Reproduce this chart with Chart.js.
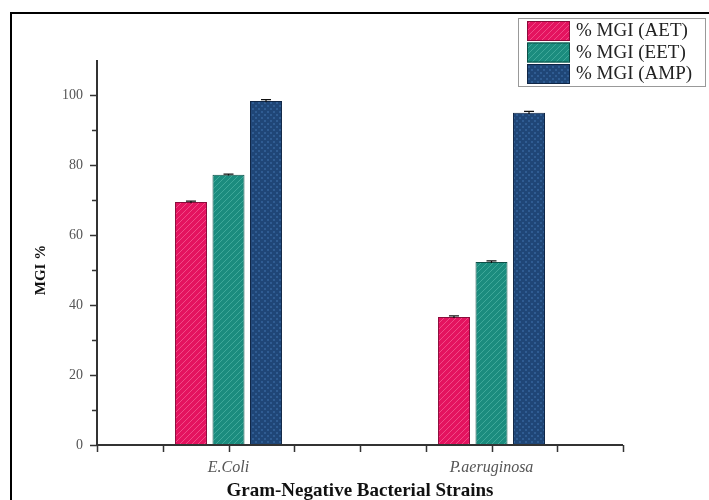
<!DOCTYPE html>
<html>
<head>
<meta charset="utf-8">
<script src="https://cdn.jsdelivr.net/npm/chart.js@4.4.1/dist/chart.umd.min.js"></script>
<style>
html,body{margin:0;padding:0;background:#fff;}
canvas{display:block;}
</style>
</head>
<body>
<canvas id="c" width="709" height="500"></canvas>
<script>
const categories = ['E.Coli', 'P.aeruginosa'];
const seriesNames = ['% MGI (AET)', '% MGI (EET)', '% MGI (AMP)'];
const aetValues = [69.4, 36.6];
const eetValues = [77.2, 52.3];
const ampValues = [98.3, 94.9];
const aetErrors = [0.3, 0.3];
const eetErrors = [0.2, 0.3];
const ampErrors = [0.4, 0.4];
const yTickLabels = [0, 20, 40, 60, 80, 100];
const xTitle = 'Gram-Negative Bacterial Strains';
const yTitle = 'MGI %';

function makePattern(base, line, kind) {
  const s = 6;
  const c = document.createElement('canvas');
  c.width = s; c.height = s;
  const g = c.getContext('2d');
  g.fillStyle = base; g.fillRect(0, 0, s, s);
  g.strokeStyle = line; g.lineWidth = 1;
  if (kind === 'diag') {
    g.beginPath();
    g.moveTo(0, s); g.lineTo(s, 0);
    g.moveTo(-1, 1); g.lineTo(1, -1);
    g.moveTo(s - 1, s + 1); g.lineTo(s + 1, s - 1);
    g.stroke();
  } else {
    g.fillStyle = line;
    g.fillRect(0, 0, 2, 2);
    g.fillRect(3, 3, 2, 2);
  }
  return g.createPattern(c, 'repeat');
}

const colors = [
  {base: '#e4135f', line: '#f04a86', border: '#8a0b3a', kind: 'diag'},
  {base: '#1b8c7e', line: '#3fa899', border: '#0d4f47', kind: 'diag'},
  {base: '#1f4677', line: '#2f5c92', border: '#0f2646', kind: 'check'}
];
const patterns = colors.map(c => makePattern(c.base, c.line, c.kind));
const seriesValues = [aetValues, eetValues, ampValues];
const seriesErrors = [aetErrors, eetErrors, ampErrors];

const SERIF = '"Liberation Serif", "Times New Roman", serif';

const decorPlugin = {
  id: 'decor',
  beforeDraw(chart) {
    const ctx = chart.ctx;
    ctx.save();
    ctx.fillStyle = '#fff';
    ctx.fillRect(0, 0, chart.width, chart.height);
    ctx.restore();
  },
  afterDraw(chart) {
    const ctx = chart.ctx;
    const xs = chart.scales.x, ys = chart.scales.y;
    const area = chart.chartArea;
    ctx.save();
    // frame
    ctx.strokeStyle = '#000';
    ctx.lineWidth = 2;
    ctx.beginPath();
    ctx.moveTo(11, 500); ctx.lineTo(11, 13); ctx.lineTo(709, 13);
    ctx.stroke();
    // axes
    ctx.strokeStyle = '#333';
    ctx.lineWidth = 2;
    ctx.beginPath();
    ctx.moveTo(area.left, ys.getPixelForValue(110));
    ctx.lineTo(area.left, area.bottom);
    ctx.lineTo(area.right, area.bottom);
    ctx.stroke();
    // y ticks
    ctx.lineWidth = 1.5;
    ctx.beginPath();
    for (let v = 0; v <= 100; v += 10) {
      const y = Math.round(ys.getPixelForValue(v)) + 0.5;
      const len = (v % 20 === 0) ? 7 : 5;
      ctx.moveTo(area.left - len, y); ctx.lineTo(area.left, y);
    }
    // x ticks
    const w = xs.getPixelForValue(1) - xs.getPixelForValue(0);
    for (let k = -2; k <= 6; k++) {
      const x = Math.round(xs.getPixelForValue(0) + k * w / 4) + 0.5;
      ctx.moveTo(x, area.bottom); ctx.lineTo(x, area.bottom + 7);
    }
    ctx.stroke();
    // error bars
    ctx.strokeStyle = '#111';
    ctx.lineWidth = 1.2;
    chart.data.datasets.forEach((ds, di) => {
      const meta = chart.getDatasetMeta(di);
      meta.data.forEach((bar, i) => {
        const v = ds.data[i], e = seriesErrors[di][i];
        const yt = ys.getPixelForValue(v + e), yb = ys.getPixelForValue(v - e);
        ctx.beginPath();
        ctx.moveTo(bar.x, yt); ctx.lineTo(bar.x, yb);
        ctx.moveTo(bar.x - 5, yt); ctx.lineTo(bar.x + 5, yt);
        ctx.stroke();
      });
    });
    // titles
    ctx.fillStyle = '#111';
    ctx.font = 'bold 19px ' + SERIF;
    ctx.textAlign = 'center';
    ctx.textBaseline = 'middle';
    ctx.fillText(xTitle, (area.left + area.right) / 2, 491);
    ctx.save();
    ctx.font = 'bold 15px ' + SERIF;
    ctx.translate(41, ys.getPixelForValue(50));
    ctx.rotate(-Math.PI / 2);
    ctx.fillText(yTitle, 0, 0);
    ctx.restore();
    // legend
    ctx.fillStyle = '#fff';
    ctx.fillRect(518, 18, 188, 69);
    ctx.strokeStyle = '#999';
    ctx.lineWidth = 1;
    ctx.strokeRect(518.5, 18.5, 187, 68);
    ctx.font = '19px ' + SERIF;
    ctx.textAlign = 'left';
    ctx.textBaseline = 'middle';
    seriesNames.forEach((name, i) => {
      const y0 = 21 + i * 21.5;
      ctx.fillStyle = patterns[i];
      ctx.fillRect(527, y0, 43, 20);
      ctx.strokeStyle = colors[i].border;
      ctx.strokeRect(527.5, y0 + 0.5, 42, 19);
      ctx.fillStyle = '#222';
      ctx.fillText(name, 576, y0 + 10.5);
    });
    ctx.restore();
  }
};

new Chart(document.getElementById('c'), {
  type: 'bar',
  data: {
    labels: categories,
    datasets: seriesNames.map((name, i) => ({
      label: name,
      data: seriesValues[i],
      backgroundColor: patterns[i],
      borderColor: colors[i].border,
      borderWidth: 1,
      categoryPercentage: 0.428,
      barPercentage: 0.853
    }))
  },
  options: {
    responsive: false,
    devicePixelRatio: 1,
    animation: false,
    layout: {padding: {left: 0, top: 60, right: 86, bottom: 0}},
    plugins: {legend: {display: false}, tooltip: {enabled: false}},
    scales: {
      x: {
        type: 'category',
        offset: true,
        grid: {display: false},
        border: {display: false},
        ticks: {
          padding: 5,
          color: '#555',
          font: {family: SERIF, size: 16, style: 'italic'}
        },
        afterFit(scale) { scale.height = 55; }
      },
      y: {
        min: 0, max: 110,
        grid: {display: false},
        border: {display: false},
        ticks: {
          stepSize: 10,
          padding: 6,
          color: '#555',
          font: {family: SERIF, size: 14},
          callback: (v) => yTickLabels.includes(v) ? String(v) : ''
        },
        afterFit(scale) { scale.width = 97; }
      }
    }
  },
  plugins: [decorPlugin]
});
</script>
</body>
</html>
